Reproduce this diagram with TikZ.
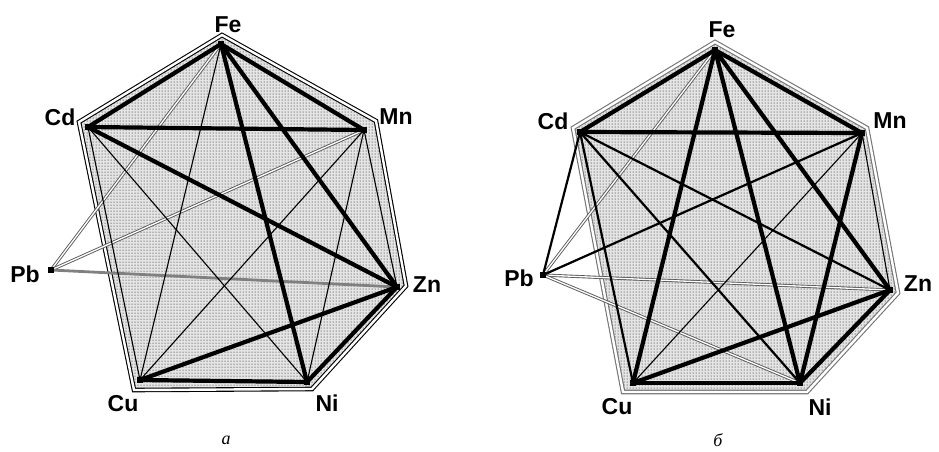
\documentclass[tikz,border=0pt]{standalone}
\usepackage{fontspec}
\setmainfont{Liberation Serif}
\newfontfamily\lblfont{Liberation Sans}
\usetikzlibrary{patterns}
\tikzset{
  vtx/.style={fill, rectangle, minimum size=6.5pt, inner sep=0pt},
  lbl/.style={font=\lblfont\bfseries\fontsize{23}{23}\selectfont, inner sep=0pt},
  captxt/.style={font=\itshape\fontsize{18}{18}\selectfont, inner sep=0pt},
  heavy/.style={line width=4.2pt},
  mid/.style={line width=2.2pt},
  fine/.style={line width=1.1pt},
  hollow/.style={draw=black!65, line width=0.9pt, double=white, double distance=1.3pt},
  greyline/.style={draw=black!50, line width=2.8pt},
  hullfill/.style={fill=black!10},
  hulldots/.style={pattern=dots, pattern color=black},
  hullA/.style={draw=black, line width=1.1pt, double=white, double distance=2.4pt},
  hullB/.style={draw=black!55, line width=1.1pt, double=white, double distance=2.4pt},
}
\begin{document}
\begin{tikzpicture}[x=1pt, y=-1pt]
\useasboundingbox (0,0) rectangle (939,451);

% --- graph a ---
\coordinate (aFe) at (221,44);
\coordinate (aCd) at (88,127);
\coordinate (aMn) at (364,130);
\coordinate (aPb) at (51,270);
\coordinate (aZn) at (397,287);
\coordinate (aCu) at (140,380);
\coordinate (aNi) at (307,382);

\fill[hullfill] (222,35) -- (376,121) -- (406,286) -- (312,389) -- (134,390) -- (79,122) -- cycle;
\fill[hulldots] (222,35) -- (376,121) -- (406,286) -- (312,389) -- (134,390) -- (79,122) -- cycle;
\draw[hullA] (222,35) -- (376,121) -- (406,286) -- (312,389) -- (134,390) -- (79,122) -- cycle;

\draw[hollow] (aPb) -- (aFe);
\draw[hollow] (aPb) -- (aMn);
\draw[greyline] (aPb) -- (aZn);
\draw[fine] (aFe) -- (aCu);
\draw[fine] (aCd) -- (aCu);
\draw[fine] (aCd) -- (aNi);
\draw[fine] (aMn) -- (aCu);
\draw[fine] (aMn) -- (aNi);
\draw[fine] (aMn) -- (aZn);
\draw[heavy] (aFe) -- (aCd);
\draw[heavy] (aFe) -- (aMn);
\draw[heavy] (aCd) -- (aMn);
\draw[heavy] (aCd) -- (aZn);
\draw[heavy] (aFe) -- (aZn);
\draw[heavy] (aFe) -- (aNi);
\draw[heavy] (aCu) -- (aZn);
\draw[heavy] (aZn) -- (aNi);
\draw[heavy] (aCu) -- (aNi);

\foreach \v in {Fe,Cd,Mn,Pb,Zn,Cu,Ni}
  \node[vtx] (a\v V) at (a\v) {};

\node[lbl] (aFeL) at (228,25) {Fe};
\node[lbl] (aCdL) at (60,117) {Cd};
\node[lbl] (aMnL) at (396,117) {Mn};
\node[lbl] (aPbL) at (25,274) {Pb};
\node[lbl] (aZnL) at (427,285) {Zn};
\node[lbl] (aCuL) at (123,404) {Cu};
\node[lbl] (aNiL) at (327,403) {Ni};
\node[captxt] (capA) at (226,440) {a};

% --- graph b ---
\coordinate (bFe) at (715,50);
\coordinate (bCd) at (580,132);
\coordinate (bMn) at (862,133);
\coordinate (bPb) at (543,275);
\coordinate (bZn) at (890,290);
\coordinate (bCu) at (633,383);
\coordinate (bNi) at (800,383);

\fill[hullfill] (715,42) -- (867,128) -- (898,293) -- (807,392) -- (623,392) -- (573,128) -- cycle;
\fill[hulldots] (715,42) -- (867,128) -- (898,293) -- (807,392) -- (623,392) -- (573,128) -- cycle;
\draw[hullB] (715,42) -- (867,128) -- (898,293) -- (807,392) -- (623,392) -- (573,128) -- cycle;

\draw[hollow] (bPb) -- (bFe);
\draw[hollow] (bPb) -- (bZn);
\draw[hollow] (bPb) -- (bNi);
\draw[fine] (bMn) -- (bCu);
\draw[fine] (bMn) -- (bZn);
\draw[mid] (bCd) -- (bZn);
\draw[mid] (bCd) -- (bNi);
\draw[mid] (bCd) -- (bCu);
\draw[mid] (bCd) -- (bPb);
\draw[mid] (bMn) -- (bPb);
\draw[heavy] (bFe) -- (bCd);
\draw[heavy] (bFe) -- (bMn);
\draw[heavy] (bCd) -- (bMn);
\draw[heavy] (bFe) -- (bCu);
\draw[heavy] (bFe) -- (bNi);
\draw[heavy] (bFe) -- (bZn);
\draw[heavy] (bMn) -- (bNi);
\draw[heavy] (bCu) -- (bZn);
\draw[heavy] (bCu) -- (bNi);
\draw[heavy] (bZn) -- (bNi);

\foreach \v in {Fe,Cd,Mn,Pb,Zn,Cu,Ni}
  \node[vtx] (b\v V) at (b\v) {};

\node[lbl] (bFeL) at (722,30) {Fe};
\node[lbl] (bCdL) at (553,121) {Cd};
\node[lbl] (bMnL) at (890,121) {Mn};
\node[lbl] (bPbL) at (519,278) {Pb};
\node[lbl] (bZnL) at (918,284) {Zn};
\node[lbl] (bCuL) at (617,407) {Cu};
\node[lbl] (bNiL) at (820,407) {Ni};
\node[captxt] (capB) at (718,440) {б};
\end{tikzpicture}
\end{document}
